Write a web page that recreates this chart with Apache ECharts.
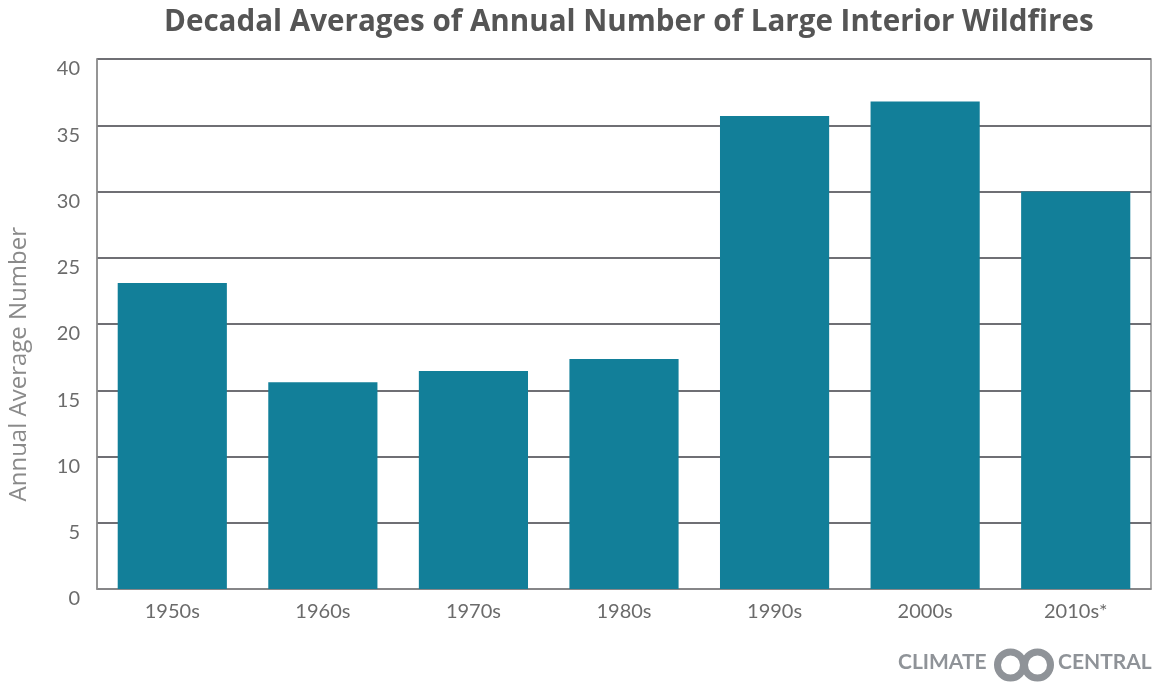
<!DOCTYPE html>
<html>
<head>
    <meta charset="utf-8">
    <title>Large Interior Wildfires</title>
    <script src="https://cdn.jsdelivr.net/npm/echarts@6.0.0/dist/echarts.min.js"></script>
    <style>
        html, body { margin: 0; padding: 0; background: #fff; }
        #main { width: 1152px; height: 682px; }
    </style>
</head>
<body>
    <div id="main"></div>
    <script type="text/javascript">
        // data
        var decades = ['1950s', '1960s', '1970s', '1980s', '1990s', '2000s', '2010s*'];
        var avgFires = [23.1, 15.6, 16.45, 17.35, 35.7, 36.8, 30.0];
        var yTicks = [0, 5, 10, 15, 20, 25, 30, 35, 40];

        var textGray = '#6b6b6b';
        var barColor = '#127f99';
        var logoGray = '#8f9398';

        var myChart = echarts.init(document.getElementById('main'));

        var option = {
            animation: false,
            title: {
                text: 'Decadal Averages of Annual Number of Large Interior Wildfires',
                left: 159,
                top: 3,
                textStyle: {
                    fontFamily: 'Open Sans',
                    fontWeight: 'bold',
                    fontSize: 29.6,
                    color: '#555555'
                }
            },
            grid: {
                left: 97,
                right: 1,
                top: 59,
                bottom: 93,
                show: true,
                borderColor: '#8e8e8e',
                borderWidth: 1.5
            },
            xAxis: {
                type: 'category',
                data: decades,
                axisTick: { show: false },
                axisLine: { lineStyle: { color: '#8e8e8e', width: 1.5 } },
                axisLabel: {
                    margin: 13,
                    fontFamily: 'Lato',
                    fontSize: 20,
                    color: textGray
                }
            },
            yAxis: {
                type: 'value',
                min: yTicks[0],
                max: yTicks[yTicks.length - 1],
                interval: 5,
                axisLine: { show: true, lineStyle: { color: '#8e8e8e', width: 1.5 } },
                axisTick: { show: false },
                axisLabel: {
                    margin: 17,
                    verticalAlign: 'top',
                    fontFamily: 'Lato',
                    fontSize: 20,
                    color: textGray
                },
                splitLine: { lineStyle: { color: '#6f6f74', width: 2 } }
            },
            graphic: [
                {
                    type: 'text',
                    left: 7,
                    top: 227,
                    rotation: Math.PI / 2,
                    style: {
                        text: 'Annual Average Number',
                        fontFamily: 'Open Sans',
                        fontSize: 24,
                        fill: '#8a8a8a'
                    }
                },
                {
                    type: 'text',
                    left: 898,
                    top: 652,
                    style: {
                        text: 'CLIMATE',
                        fontFamily: 'Lato',
                        fontWeight: 'bold',
                        fontSize: 21,
                        fill: logoGray
                    }
                },
                {
                    type: 'circle',
                    shape: { cx: 1010.5, cy: 665, r: 13 },
                    style: { fill: 'none', stroke: logoGray, lineWidth: 7 }
                },
                {
                    type: 'circle',
                    shape: { cx: 1037.5, cy: 665, r: 13 },
                    style: { fill: 'none', stroke: logoGray, lineWidth: 7 }
                },
                {
                    type: 'text',
                    left: 1058,
                    top: 652,
                    style: {
                        text: 'CENTRAL',
                        fontFamily: 'Lato',
                        fontWeight: 'bold',
                        fontSize: 21,
                        fill: logoGray
                    }
                }
            ],
            series: [
                {
                    type: 'bar',
                    data: avgFires,
                    barCategoryGap: '27.5%',
                    itemStyle: { color: barColor }
                }
            ]
        };

        myChart.setOption(option);
    </script>
</body>
</html>
